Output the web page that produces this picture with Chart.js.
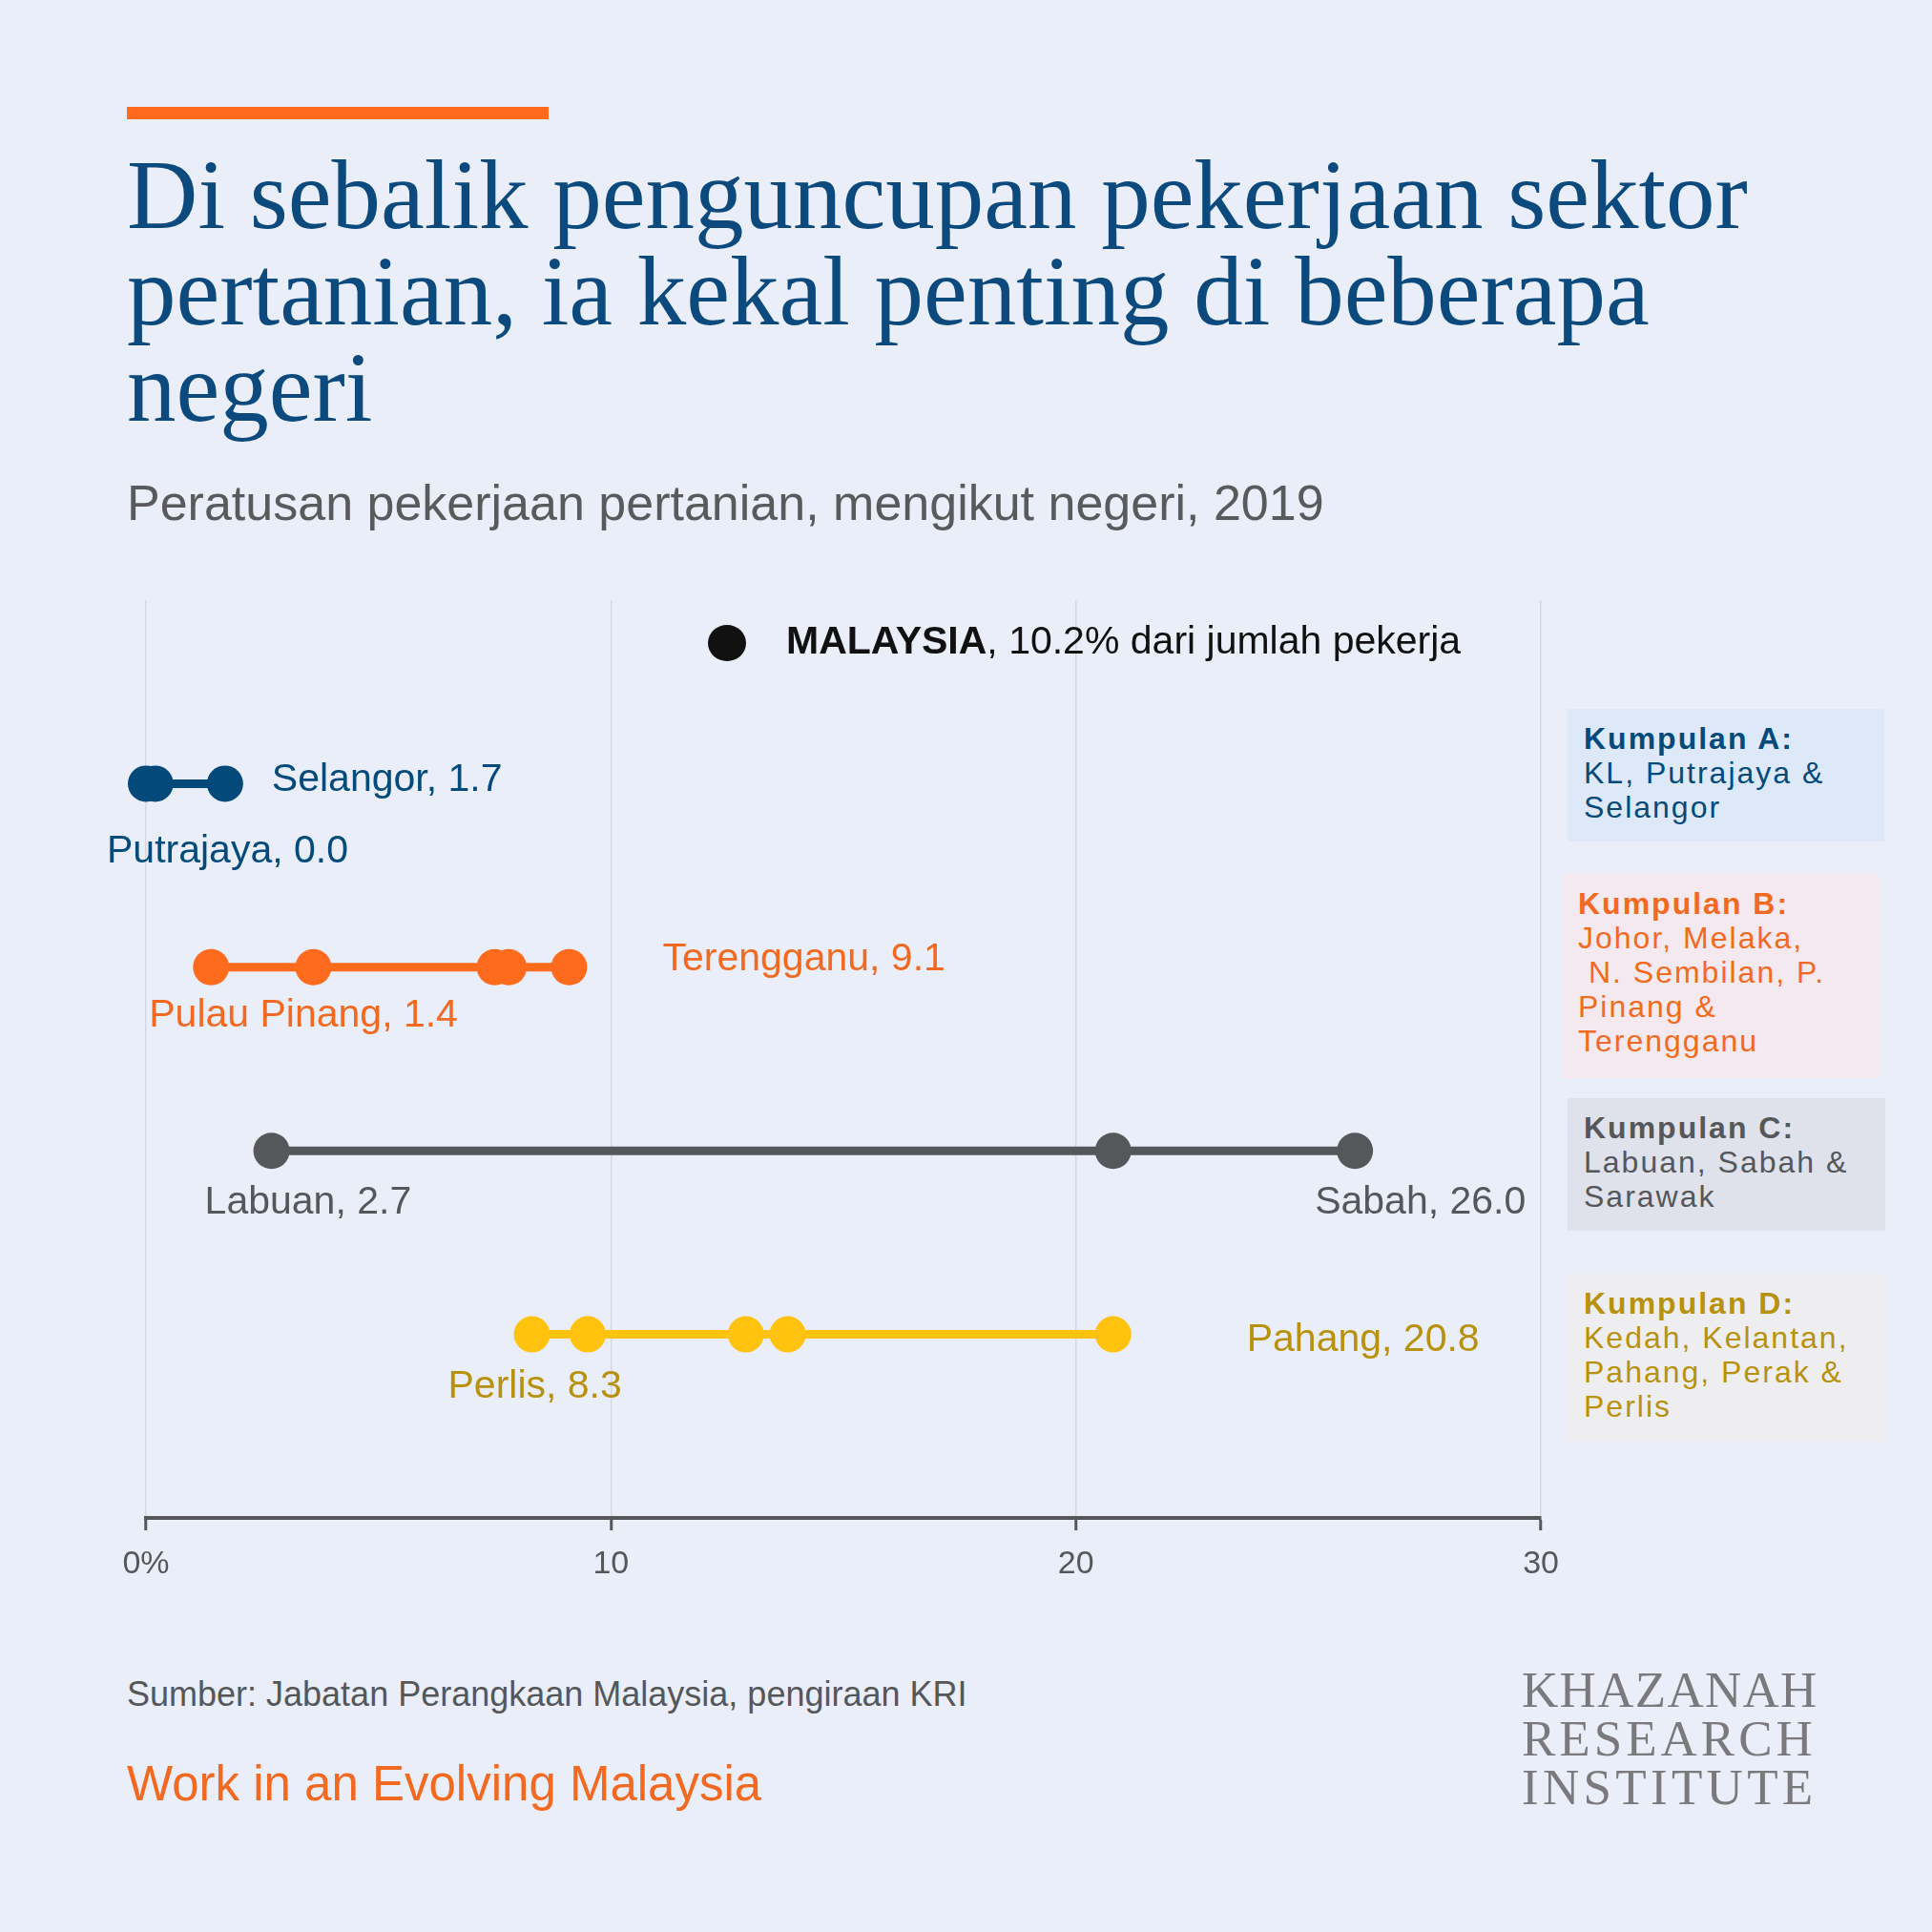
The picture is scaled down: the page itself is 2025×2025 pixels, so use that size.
<!DOCTYPE html>
<html>
<head>
<meta charset="utf-8">
<script src="https://cdn.jsdelivr.net/npm/chart.js@4.4.1/dist/chart.umd.min.js"></script>
<style>
  body { margin: 0; background: #eaeef9; }
  #page { position: relative; width: 2025px; height: 2025px; background: #eaeef9; font-family: 'Liberation Sans', Arial, sans-serif; }
  .abs { position: absolute; white-space: pre; }
  #bar { left: 133px; top: 112px; width: 442px; height: 13px; background: #ff6a1f; }
  #title { left: 133px; top: 154px; font-family: 'Liberation Serif', serif; font-size: 103px; line-height: 101px; color: #0c4a7d; }
  #subtitle { left: 133px; top: 501px; font-size: 52px; line-height: 52px; color: #595a5c; }
  #source { left: 133px; top: 1758px; font-size: 36px; line-height: 36px; color: #555759; }
  #book { left: 133px; top: 1844px; font-size: 51px; line-height: 52px; color: #f26a21; }
  #logo { left: 1595px; top: 1746px; font-family: 'Liberation Serif', serif; font-size: 53px; line-height: 51px; color: #7a7a7c; }
  .box { font-size: 32px; line-height: 36px; letter-spacing: 2px; padding-top: 13px; box-sizing: border-box; }
  .box b { font-weight: bold; }
  #chart { position: absolute; left: 0; top: 600px; }
</style>
</head>
<body>
<div id="page">
  <div class="abs" id="bar"></div>
  <div class="abs" id="title">Di sebalik penguncupan pekerjaan sektor
pertanian, ia kekal penting di beberapa
negeri</div>
  <div class="abs" id="subtitle">Peratusan pekerjaan pertanian, mengikut negeri, 2019</div>

  <div class="abs box" style="left:1643px;top:743px;width:332px;height:139px;padding-left:17px;background:#dde9f8;color:#044a7b;"><b>Kumpulan A:</b>
KL, Putrajaya &amp;
Selangor</div>
  <div class="abs box" style="left:1638px;top:916px;width:332px;height:214px;padding-left:16px;background:#f3e9ee;color:#f26a21;"><b>Kumpulan B:</b>
Johor, Melaka,
 N. Sembilan, P.
Pinang &amp;
Terengganu</div>
  <div class="abs box" style="left:1643px;top:1151px;width:333px;height:139px;padding-left:17px;background:#dfe2ea;color:#55575b;"><b>Kumpulan C:</b>
Labuan, Sabah &amp;
Sarawak</div>
  <div class="abs box" style="left:1643px;top:1335px;width:333px;height:176px;padding-left:17px;background:#eeeef0;color:#b8920e;"><b>Kumpulan D:</b>
Kedah, Kelantan,
Pahang, Perak &amp;
Perlis</div>

  <canvas id="chart" width="1649" height="1080" style="width:1649px;height:1080px;"></canvas>

  <div class="abs" id="source">Sumber: Jabatan Perangkaan Malaysia, pengiraan KRI</div>
  <div class="abs" id="book">Work in an Evolving Malaysia</div>
  <div class="abs" id="logo"><span style="letter-spacing:1.3px">KHAZANAH</span>
<span style="letter-spacing:4px">RESEARCH</span>
<span style="letter-spacing:4.3px">INSTITUTE</span></div>
</div>

<script>
// data
let groupNames = ['Kumpulan A', 'Kumpulan B', 'Kumpulan C', 'Kumpulan D'];
let groupAStates = ['Putrajaya', 'KL', 'Selangor'];
let groupAValues = [0.0, 0.2, 1.7];
let groupBStates = ['Pulau Pinang', 'Melaka', 'Johor', 'N. Sembilan', 'Terengganu'];
let groupBValues = [1.4, 3.6, 7.5, 7.8, 9.1];
let groupCStates = ['Labuan', 'Sarawak', 'Sabah'];
let groupCValues = [2.7, 20.8, 26.0];
let groupDStates = ['Perlis', 'Kedah', 'Perak', 'Kelantan', 'Pahang'];
let groupDValues = [8.3, 9.5, 12.9, 13.8, 20.8];
let xTicks = [0, 10, 20, 30];
let malaysiaValue = 10.2;
let labelledStates = ['Selangor', 'Putrajaya', 'Terengganu', 'Pulau Pinang', 'Labuan', 'Sabah', 'Pahang', 'Perlis'];

// styles
let dotColors = ['#034a7b', '#ff6b1c', '#55575b', '#ffc20e'];
let textColors = ['#044a7b', '#f26a21', '#55575b', '#b8920e'];
// where each label sits relative to its dot
let labelOffsets = {
  'Selangor': [49, -4],
  'Putrajaya': [-41, 71],
  'Terengganu': [98, -8],
  'Pulau Pinang': [-65, 51],
  'Labuan': [-70, 54],
  'Sabah': [-42, 54],
  'Pahang': [140, 6],
  'Perlis': [-88, 55]
};

let allStates = [groupAStates, groupBStates, groupCStates, groupDStates];
let allValues = [groupAValues, groupBValues, groupCValues, groupDValues];

let datasets = [];
for (let i = 0; i < groupNames.length; i++) {
  let points = [];
  for (let j = 0; j < allValues[i].length; j++) {
    points.push({ x: allValues[i][j], y: i + 1 });
  }
  datasets.push({
    label: groupNames[i],
    data: points,
    showLine: true,
    borderColor: dotColors[i],
    backgroundColor: dotColors[i],
    borderWidth: 9,
    pointRadius: 19,
    pointBorderWidth: 0,
    pointHoverRadius: 19,
    clip: false
  });
}

let labelPlugin = {
  id: 'stateLabels',
  afterDatasetsDraw(chart) {
    let c = chart.ctx;
    c.save();
    c.font = '41px "Liberation Sans", Arial, sans-serif';
    c.textAlign = 'left';
    c.textBaseline = 'middle';
    for (let i = 0; i < allStates.length; i++) {
      let meta = chart.getDatasetMeta(i);
      for (let j = 0; j < allStates[i].length; j++) {
        let name = allStates[i][j];
        if (!labelledStates.includes(name)) continue;
        let off = labelOffsets[name];
        let pt = meta.data[j];
        c.fillStyle = textColors[i];
        c.fillText(`${name}, ${allValues[i][j].toFixed(1)}`, pt.x + off[0], pt.y + off[1]);
      }
    }
    // national legend
    c.fillStyle = '#111111';
    c.beginPath();
    c.ellipse(762, 74, 20, 19, 0, 0, Math.PI * 2);
    c.fill();
    c.font = 'bold 41px "Liberation Sans", Arial, sans-serif';
    c.fillText('MALAYSIA', 824, 74);
    let w = c.measureText('MALAYSIA').width;
    c.font = '41px "Liberation Sans", Arial, sans-serif';
    c.fillText(`, ${malaysiaValue.toFixed(1)}% dari jumlah pekerja`, 824 + w, 74);
    c.restore();
  }
};

let ctx = document.getElementById('chart').getContext('2d');
let myChart = new Chart(ctx, {
  type: 'scatter',
  data: { datasets: datasets },
  options: {
    responsive: false,
    animation: false,
    devicePixelRatio: 1,
    layout: { padding: { left: 153, right: 17, top: 29, bottom: 9 } },
    plugins: {
      legend: { display: false },
      tooltip: { enabled: false }
    },
    scales: {
      x: {
        type: 'linear',
        min: 0,
        max: 30,
        afterFit: function (scale) { scale.height = 80; },
        afterBuildTicks: function (scale) { scale.ticks = xTicks.map(v => ({ value: v })); },
        ticks: {
          padding: 15,
          color: '#555759',
          font: { family: '"Liberation Sans", Arial, sans-serif', size: 34 },
          callback: v => (v === 0 ? '0%' : String(v))
        },
        grid: {
          color: '#d6d7df',
          lineWidth: 1.5,
          drawTicks: true,
          tickLength: 13,
          tickColor: '#555759',
          tickWidth: 3
        },
        border: { display: true, color: '#555759', width: 4 }
      },
      y: { display: false, min: 0, max: 5, reverse: true }
    }
  },
  plugins: [labelPlugin]
});
</script>
</body>
</html>
